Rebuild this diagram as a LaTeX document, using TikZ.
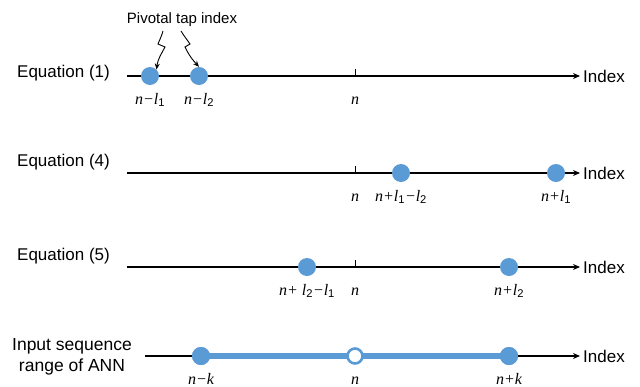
\documentclass[tikz,border=0pt]{standalone}
\usepackage{fontspec}
\setmainfont{Liberation Sans}
\newfontfamily\serifit{Liberation Serif}[ItalicFont={Liberation Serif Italic}]
\usetikzlibrary{arrows.meta}
\definecolor{dotblue}{HTML}{5B9BD5}
\newcommand{\lab}[1]{{\serifit\itshape #1}}
\newcommand{\sub}[1]{\textsubscript{\upshape #1}}
\tikzset{
  axis/.style={line width=1.1pt, -{Stealth[length=7pt,width=6pt]}},
  dot/.style={circle, fill=dotblue, minimum size=18pt, inner sep=0pt},
  hollow/.style={circle, draw=dotblue, line width=2.6pt, fill=white, minimum size=15pt, inner sep=0pt},
  ticklab/.style={font=\fontsize{16}{18}\selectfont, inner sep=0pt, anchor=base},
  eqlab/.style={font=\fontsize{17}{20}\selectfont, inner sep=0pt, anchor=base west},
  idx/.style={font=\fontsize{17}{20}\selectfont, inner sep=0pt, anchor=west},
  tickmark/.style={line width=1pt},
  squig/.style={line width=0.9pt, -{Stealth[length=6pt,width=5pt]}}
}
\begin{document}
\begin{tikzpicture}[x=1pt,y=-1pt]
\useasboundingbox (0,0) rectangle (640,386);
% ---------- Equation (1)
\node[eqlab] (e1) at (17,77) {Equation (1)};
\coordinate (s1) at (127,76);
\coordinate (t1) at (580,76);
\draw[axis] (s1) -- (t1);
\node[idx] (i1) at (583,76) {Index};
\draw[tickmark] (355,69) coordinate (k1) -- (355,76);
\node[dot] (d11) at (150,76) {};
\node[dot] (d12) at (199,76) {};
\node[ticklab] (l11) at (150,104) {\lab{n−l}\sub{1}};
\node[ticklab] (l12) at (199,104) {\lab{n−l}\sub{2}};
\node[ticklab] (l13) at (355,104) {\lab{n}};
\node[font=\fontsize{15}{17}\selectfont, inner sep=0pt, anchor=base] (piv) at (182,23) {Pivotal tap index};
\draw[squig] (163,31) .. controls (161,38) and (159,41) .. (158,44) -- (165,47) .. controls (162,53) and (158,58) .. (d11.north east);
\draw[squig] (181,31) .. controls (184,36) and (188,41) .. (190,44) -- (185,47) .. controls (188,53) and (190,57) .. (d12.north);
% ---------- Equation (4)
\node[eqlab] (e4) at (17,166) {Equation (4)};
\coordinate (s4) at (127,173);
\coordinate (t4) at (580,173);
\draw[axis] (s4) -- (t4);
\node[idx] (i4) at (583,173) {Index};
\draw[tickmark] (355,166) -- (355,173);
\node[dot] (d41) at (401,173) {};
\node[dot] (d42) at (556,173) {};
\node[ticklab] (l41) at (355,201) {\lab{n}};
\node[ticklab] (l42) at (401,201) {\lab{n+l}\sub{1}\lab{−l}\sub{2}};
\node[ticklab] (l43) at (556,201) {\lab{n+l}\sub{1}};
% ---------- Equation (5)
\node[eqlab] (e5) at (17,260) {Equation (5)};
\coordinate (s5) at (127,267);
\coordinate (t5) at (580,267);
\draw[axis] (s5) -- (t5);
\node[idx] (i5) at (583,267) {Index};
\draw[tickmark] (355,260) -- (355,267);
\node[dot] (d51) at (307,267) {};
\node[dot] (d52) at (509,267) {};
\node[ticklab] (l51) at (307,295) {\lab{n+ l}\sub{2}\lab{−l}\sub{1}};
\node[ticklab] (l52) at (355,295) {\lab{n}};
\node[ticklab] (l53) at (509,295) {\lab{n+l}\sub{2}};
% ---------- Input sequence range
\node[font=\fontsize{17.5}{21}\selectfont, inner sep=0pt, align=center] (e6) at (72,357) {Input sequence\\range of ANN};
\coordinate (s6) at (145,356);
\coordinate (t6) at (580,356);
\draw[axis] (s6) -- (t6);
\node[idx] (i6) at (583,356) {Index};
\node[dot] (d61) at (201,356) {};
\node[dot] (d63) at (509,356) {};
\draw[dotblue, line width=6pt] (d61.center) -- (d63.center);
\node[dot] at (d61) {};
\node[dot] at (d63) {};
\node[hollow] (d62) at (355,356) {};
\node[ticklab] (l61) at (201,384) {\lab{n−k}};
\node[ticklab] (l62) at (355,384) {\lab{n}};
\node[ticklab] (l63) at (509,384) {\lab{n+k}};
\end{tikzpicture}
\end{document}
